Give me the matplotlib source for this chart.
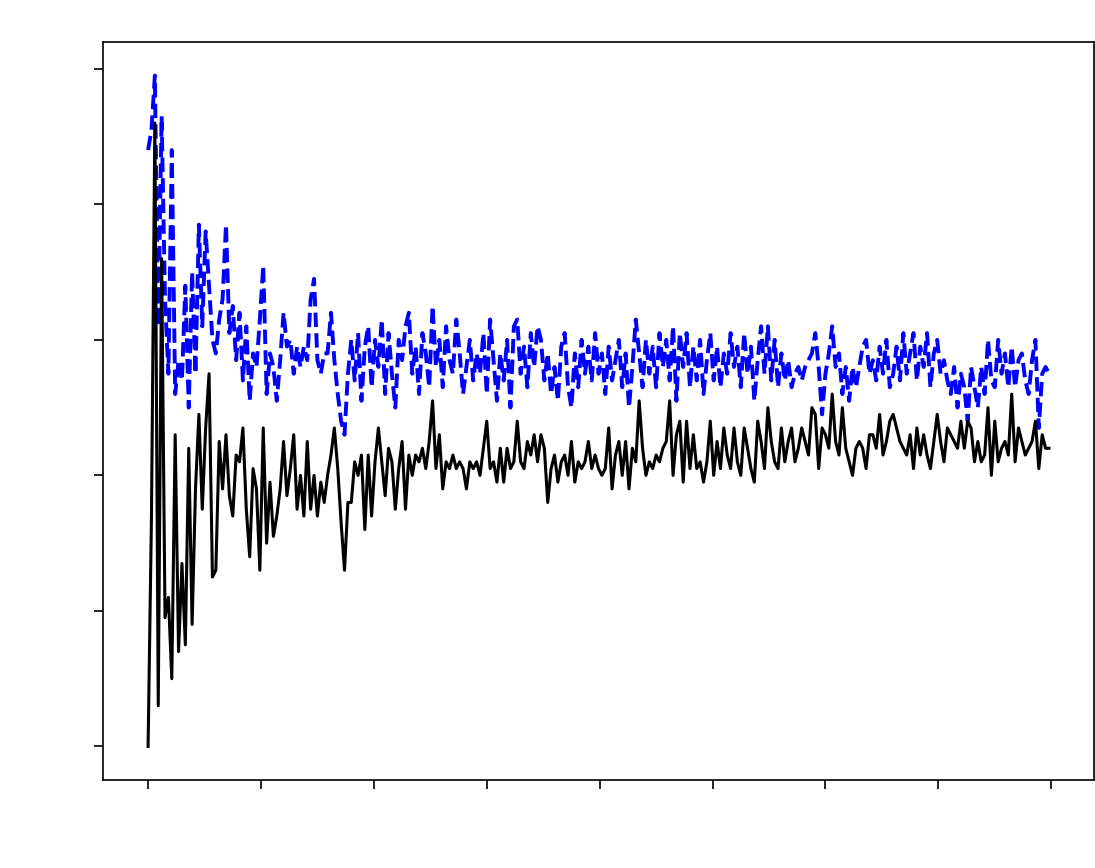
import matplotlib
matplotlib.use("Agg")
import matplotlib.pyplot as plt
import numpy as np

# sample positions (0..798, step 3)
steps = np.arange(0, 800, 3)

# solid black series
black_vals = [
    0.00, 0.34, 0.92, 0.06, 0.72, 0.19, 0.22, 0.10, 0.46, 0.14,
    0.27, 0.15, 0.44, 0.18, 0.38, 0.49, 0.35, 0.47, 0.55, 0.25,
    0.26, 0.45, 0.38, 0.46, 0.37, 0.34, 0.43, 0.42, 0.47, 0.35,
    0.28, 0.41, 0.38, 0.26, 0.47, 0.30, 0.39, 0.31, 0.34, 0.38,
    0.45, 0.37, 0.41, 0.46, 0.35, 0.40, 0.34, 0.45, 0.35, 0.40,
    0.34, 0.39, 0.36, 0.40, 0.43, 0.47, 0.41, 0.33, 0.26, 0.36,
    0.36, 0.42, 0.40, 0.43, 0.32, 0.43, 0.34, 0.42, 0.47, 0.42,
    0.37, 0.44, 0.42, 0.35, 0.41, 0.45, 0.35, 0.43, 0.40, 0.43,
    0.42, 0.44, 0.41, 0.45, 0.51, 0.41, 0.46, 0.38, 0.42, 0.41,
    0.43, 0.41, 0.42, 0.41, 0.38, 0.42, 0.41, 0.42, 0.40, 0.44,
    0.48, 0.41, 0.42, 0.39, 0.44, 0.39, 0.44, 0.41, 0.42, 0.48,
    0.42, 0.41, 0.45, 0.43, 0.46, 0.42, 0.46, 0.44, 0.36, 0.41,
    0.43, 0.39, 0.42, 0.43, 0.40, 0.45, 0.39, 0.42, 0.41, 0.42,
    0.45, 0.41, 0.43, 0.41, 0.40, 0.41, 0.47, 0.38, 0.43, 0.45,
    0.40, 0.45, 0.38, 0.44, 0.42, 0.51, 0.44, 0.40, 0.42, 0.41,
    0.43, 0.42, 0.44, 0.45, 0.51, 0.40, 0.46, 0.48, 0.39, 0.48,
    0.41, 0.46, 0.41, 0.42, 0.39, 0.42, 0.48, 0.40, 0.45, 0.41,
    0.47, 0.43, 0.41, 0.47, 0.42, 0.40, 0.47, 0.44, 0.41, 0.39,
    0.48, 0.45, 0.41, 0.50, 0.45, 0.42, 0.41, 0.47, 0.42, 0.45,
    0.47, 0.42, 0.44, 0.47, 0.45, 0.43, 0.50, 0.49, 0.41, 0.47,
    0.46, 0.44, 0.52, 0.45, 0.43, 0.50, 0.44, 0.42, 0.40, 0.44,
    0.45, 0.44, 0.41, 0.46, 0.46, 0.44, 0.49, 0.43, 0.45, 0.48,
    0.49, 0.47, 0.45, 0.44, 0.43, 0.46, 0.41, 0.47, 0.43, 0.46,
    0.43, 0.41, 0.45, 0.49, 0.45, 0.42, 0.47, 0.46, 0.45, 0.44,
    0.48, 0.44, 0.48, 0.47, 0.42, 0.45, 0.42, 0.43, 0.50, 0.40,
    0.48, 0.42, 0.44, 0.45, 0.43, 0.52, 0.42, 0.47, 0.45, 0.43,
    0.44, 0.45, 0.48, 0.41, 0.46, 0.44, 0.44,
]

# dashed blue series
blue_vals = [
    0.88, 0.91, 0.99, 0.62, 0.93, 0.66, 0.55, 0.88, 0.52, 0.57,
    0.54, 0.68, 0.50, 0.70, 0.55, 0.77, 0.62, 0.76, 0.68, 0.60,
    0.58, 0.63, 0.66, 0.77, 0.61, 0.65, 0.57, 0.64, 0.54, 0.62,
    0.51, 0.58, 0.56, 0.63, 0.71, 0.52, 0.58, 0.56, 0.51, 0.57,
    0.64, 0.59, 0.60, 0.55, 0.59, 0.56, 0.59, 0.57, 0.66, 0.69,
    0.57, 0.55, 0.58, 0.58, 0.64, 0.57,
    0.52, 0.48, 0.46, 0.55, 0.60, 0.54, 0.61, 0.51, 0.59, 0.62,
    0.53, 0.60, 0.56, 0.63, 0.52, 0.61, 0.55, 0.50, 0.60, 0.57,
    0.62, 0.64, 0.55, 0.59, 0.52, 0.61, 0.58, 0.53, 0.65, 0.56,
    0.60, 0.53, 0.62, 0.57, 0.55, 0.63, 0.58, 0.52, 0.56, 0.60,
    0.54, 0.58, 0.55, 0.61, 0.52, 0.63, 0.57, 0.51, 0.58, 0.54,
    0.60, 0.50, 0.62, 0.63, 0.55, 0.59, 0.53, 0.61, 0.56, 0.62,
    0.60, 0.54, 0.58, 0.52, 0.56, 0.51, 0.59, 0.61, 0.53, 0.50,
    0.58, 0.53, 0.60, 0.55, 0.59, 0.54, 0.61, 0.55, 0.58, 0.52,
    0.59, 0.54, 0.57, 0.60, 0.53, 0.58, 0.50, 0.56, 0.63, 0.58,
    0.53, 0.60, 0.55, 0.59, 0.53, 0.61, 0.56, 0.60, 0.54, 0.62,
    0.51, 0.61, 0.56, 0.61, 0.53, 0.59, 0.54, 0.60, 0.52, 0.57,
    0.61, 0.54, 0.59, 0.53, 0.58, 0.55, 0.61, 0.56, 0.59, 0.53,
    0.61, 0.55, 0.59, 0.51, 0.57, 0.62, 0.55, 0.62, 0.54, 0.60,
    0.53, 0.58, 0.54, 0.57, 0.53, 0.55, 0.56, 0.54, 0.56, 0.57,
    0.58, 0.61, 0.56, 0.49, 0.55, 0.58, 0.62, 0.56, 0.58, 0.52,
    0.56, 0.51, 0.56, 0.53, 0.56, 0.59, 0.60, 0.55, 0.57, 0.54,
    0.59, 0.55, 0.60, 0.53, 0.55, 0.59, 0.54, 0.61, 0.55, 0.58,
    0.61, 0.54, 0.59, 0.56, 0.61, 0.53, 0.58, 0.60, 0.55, 0.57,
    0.54, 0.52, 0.56, 0.50, 0.55, 0.53, 0.48, 0.56, 0.53, 0.50,
    0.56, 0.52, 0.60, 0.54, 0.53, 0.60, 0.55, 0.58, 0.53, 0.59,
    0.53, 0.57, 0.58, 0.54, 0.52, 0.57, 0.60, 0.47, 0.55, 0.56, 0.55,
]

x_ticks = [0, 100, 200, 300, 400, 500, 600, 700, 800]
y_ticks = [0.0, 0.2, 0.4, 0.6, 0.8, 1.0]

fig = plt.figure(figsize=(10.95, 8.68), dpi=100)
ax = fig.add_axes([0.0941, 0.1014, 0.905, 0.8502])

ax.plot(steps, blue_vals, 'b--', linewidth=2.8)
ax.plot(steps, black_vals, 'k-', linewidth=2.2)

ax.set_xticks(x_ticks)
ax.set_yticks(y_ticks)
ax.set_xticklabels([])
ax.set_yticklabels([])
ax.tick_params(length=6.5, width=1.2, direction='out', color='black')
for sp in ax.spines.values():
    sp.set_linewidth(1.2)
    sp.set_color('black')

fig.savefig('out.png', dpi=100)
